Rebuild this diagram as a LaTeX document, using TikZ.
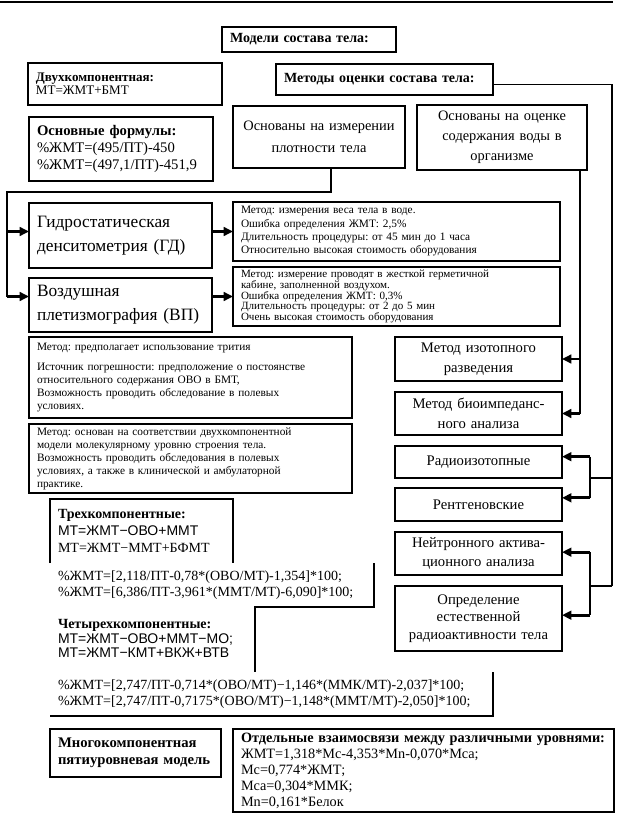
\documentclass[tikz,border=0pt]{standalone}
\usepackage{fontspec}
\setmainfont{Liberation Serif}
\newfontfamily\sansf{Liberation Sans}
\usetikzlibrary{arrows.meta}
\frenchspacing
\tikzset{
  box/.style={draw,line width=0.8pt,anchor=north west,inner xsep=6pt,inner ysep=0pt,outer sep=0pt},
  nob/.style={anchor=north west,inner xsep=6pt,inner ysep=0pt,outer sep=0pt},
  ln/.style={line width=0.8pt},
  arr/.style={line width=2.2pt,-{Triangle[length=7pt,width=6.5pt]}},
}
\newcommand\bx[8]{%
  \pgfmathsetmacro\bxw{(#5-#3)*0.75}%
  \pgfmathsetmacro\bxh{(#6-#4)*0.75}%
  \pgfmathsetmacro\bxt{(#5-#3)*0.75-12}%
  \node[#2,font={#7},minimum width=\bxw pt,minimum height=\bxh pt,text width=\bxt pt] (#1) at (#3,#4) {#8};}
\begin{document}
\begin{tikzpicture}[x=0.75pt,y=-0.75pt]
\useasboundingbox (0,0) rectangle (623,813);
\draw[line width=1.2pt] (0,2) -- (613,2);

\bx{models}{box,align=left}{222}{27}{396}{52}{\fontsize{10.5}{12}\selectfont\bfseries}{Модели состава тела:}
\bx{two}{box,align=left}{28}{63}{222}{105}{\fontsize{9.8}{10}\selectfont}{\textbf{Двухкомпонентная:}\\МТ=ЖМТ+БМТ}
\bx{methods}{box,align=left}{276}{64}{493}{95}{\fontsize{10.5}{12}\selectfont\bfseries}{Методы оценки состава тела:}
\bx{formulas}{box,align=left}{29}{117}{213}{181}{\fontsize{11}{13}\selectfont}{\textbf{Основные формулы:}\\\%ЖМТ=(495/ПТ)-450\\\%ЖМТ=(497,1/ПТ)-451,9}
\bx{density}{box,align=center}{233}{106}{405}{168}{\fontsize{10.8}{16.5}\selectfont}{Основаны на измерении\\плотности тела}
\bx{water}{box,align=center}{417}{105}{587}{170}{\fontsize{10.8}{15}\selectfont}{Основаны на оценке\\содержания воды в\\организме}
\bx{hydro}{box,align=left}{29}{203}{212}{268}{\fontsize{13}{18}\selectfont}{Гидростатическая\\денситометрия (ГД)}
\bx{hydrodesc}{box,align=left}{233}{202}{560}{261}{\fontsize{8.5}{10}\selectfont}{Метод: измерения веса тела в воде.\\Ошибка определения ЖМТ: 2,5\%\\Длительность процедуры: от 45 мин до 1 часа\\Относительно высокая стоимость оборудования}
\bx{vp}{box,align=left}{29}{278}{212}{332}{\fontsize{13}{18}\selectfont}{Воздушная\\плетизмография (ВП)}
\bx{vpdesc}{box,align=left}{233}{267}{560}{326}{\fontsize{8.3}{8}\selectfont}{Метод: измерение проводят в жесткой герметичной\\кабине, заполненной воздухом.\\Ошибка определения ЖМТ: 0,3\%\\Длительность процедуры: от 2 до 5 мин\\Очень высокая стоимость оборудования}
\bx{tritium}{box,align=left}{29}{337}{352}{418}{\fontsize{8.5}{9.75}\selectfont}{Метод: предполагает использование трития\\[5pt]Источник погрешности: предположение о постоянстве\\относительного содержания ОВО в БМТ,\\Возможность проводить обследование в полевых\\условиях.}
\bx{biadesc}{box,align=left}{29}{424}{352}{493}{\fontsize{8.5}{9.75}\selectfont}{Метод: основан на соответствии двухкомпонентной\\модели молекулярному уровню строения тела.\\Возможность проводить обследования в полевых\\условиях, а также в клинической и амбулаторной\\практике.}

\bx{iso}{box,align=center}{395}{337}{562}{381}{\fontsize{11}{15}\selectfont}{Метод изотопного\\разведения}
\bx{bia}{box,align=center}{395}{392}{562}{435}{\fontsize{11}{15}\selectfont}{Метод биоимпеданс-\\ного анализа}
\bx{radio}{box,align=center}{395}{446}{562}{478}{\fontsize{11}{15}\selectfont}{Радиоизотопные}
\bx{xray}{box,align=center}{395}{488}{562}{521}{\fontsize{11}{15}\selectfont}{Рентгеновские}
\bx{neut}{box,align=center}{395}{532}{562}{575}{\fontsize{11}{14}\selectfont}{Нейтронного актива-\\ционного анализа}
\bx{det}{box,align=center}{395}{586}{562}{651}{\fontsize{11}{13}\selectfont}{Определение\\естественной\\радиоактивности тела}

\bx{three}{nob,align=left}{50}{499}{233}{563}{\fontsize{10.5}{12.5}\selectfont}{\textbf{Трехкомпонентные:}\\{\sansf МТ=ЖМТ−ОВО+ММТ}\\МТ=ЖМТ−ММТ+БФМТ}
\bx{threef}{nob,align=left}{50}{563}{374}{607}{\fontsize{10.5}{11.5}\selectfont}{\%ЖМТ=[2,118/ПТ-0,78*(ОВО/МТ)-1,354]*100;\\\%ЖМТ=[6,386/ПТ-3,961*(ММТ/МТ)-6,090]*100;}
\bx{four}{nob,align=left}{50}{605}{255}{672}{\fontsize{10.5}{11}\selectfont}{\textbf{Четырехкомпонентные:}\\{\sansf МТ=ЖМТ−ОВО+ММТ−МО;}\\{\sansf МТ=ЖМТ−КМТ+ВКЖ+ВТВ}}
\bx{fourf}{nob,align=left}{50}{672}{493}{716}{\fontsize{10.5}{11.5}\selectfont}{\%ЖМТ=[2,747/ПТ-0,714*(ОВО/МТ)−1,146*(ММК/МТ)-2,037]*100;\\\%ЖМТ=[2,747/ПТ-0,7175*(ОВО/МТ)−1,148*(ММТ/МТ)-2,050]*100;}

\bx{multi}{box,align=left}{50}{729}{221}{777}{\fontsize{11}{12.75}\selectfont\bfseries}{Многокомпонентная\\пятиуровневая модель}
\bx{rel}{box,align=left}{233}{729}{614}{812}{\fontsize{10.7}{12}\selectfont}{\textbf{Отдельные взаимосвязи между различными уровнями:}\\ЖМТ=1,318*Mc-4,353*Mn-0,070*Mca;\\Mc=0,774*ЖМТ;\\Mca=0,304*ММК;\\Mn=0,161*Белок}

% partial borders
\draw[ln] (three.south west) -- (three.north west) -- (three.north east) -- (three.south east);
\draw[ln] (threef.north east) -- (threef.south east) -- (four.north east |- threef.south east) -- (four.south east);
\draw[ln] (fourf.north east) -- (fourf.south east) -- (fourf.south west);

% left connectors
\coordinate (busL) at (7,192);
\draw[ln] ([xshift=9pt]density.south) |- (busL) -- (busL |- vpdesc.west);
\draw[arr] (busL |- hydrodesc.west) -- (hydro.west |- hydrodesc.west);
\draw[arr] (busL |- vpdesc.west) -- (vp.west |- vpdesc.west);
\draw[arr] (hydro.east |- hydrodesc.west) -- (hydrodesc.west);
\draw[arr] (vp.east |- vpdesc.west) -- (vpdesc.west);

% water connectors
\coordinate (wx) at (580,170);
\draw[ln] (wx) -- (wx |- bia.east);
\draw[arr] (wx |- iso.east) -- (iso.east);
\draw[arr] (wx |- bia.east) -- (bia.east);

% methods connectors
\coordinate (ox) at (612,84);
\coordinate (ix) at (590,478);
\coordinate (ra) at ([yshift=4pt]radio.east);
\coordinate (xa) at ([yshift=5pt]xray.east);
\coordinate (na) at ([yshift=1pt]neut.east);
\coordinate (da) at ([yshift=2.5pt]det.east);
\draw[ln] ([yshift=-4pt]methods.east) -| (ox |- det.north);
\draw[ln] (ox |- radio.south) -- (ix |- radio.south);
\draw[ln] (ox |- det.north) -- (ix |- det.north);
\draw[ln] (ix |- ra) -- (ix |- xa);
\draw[ln] (ix |- na) -- (ix |- da);
\draw[arr] (ix |- ra) -- (ra);
\draw[arr] (ix |- xa) -- (xa);
\draw[arr] (ix |- na) -- (na);
\draw[arr] (ix |- da) -- (da);
\end{tikzpicture}
\end{document}
